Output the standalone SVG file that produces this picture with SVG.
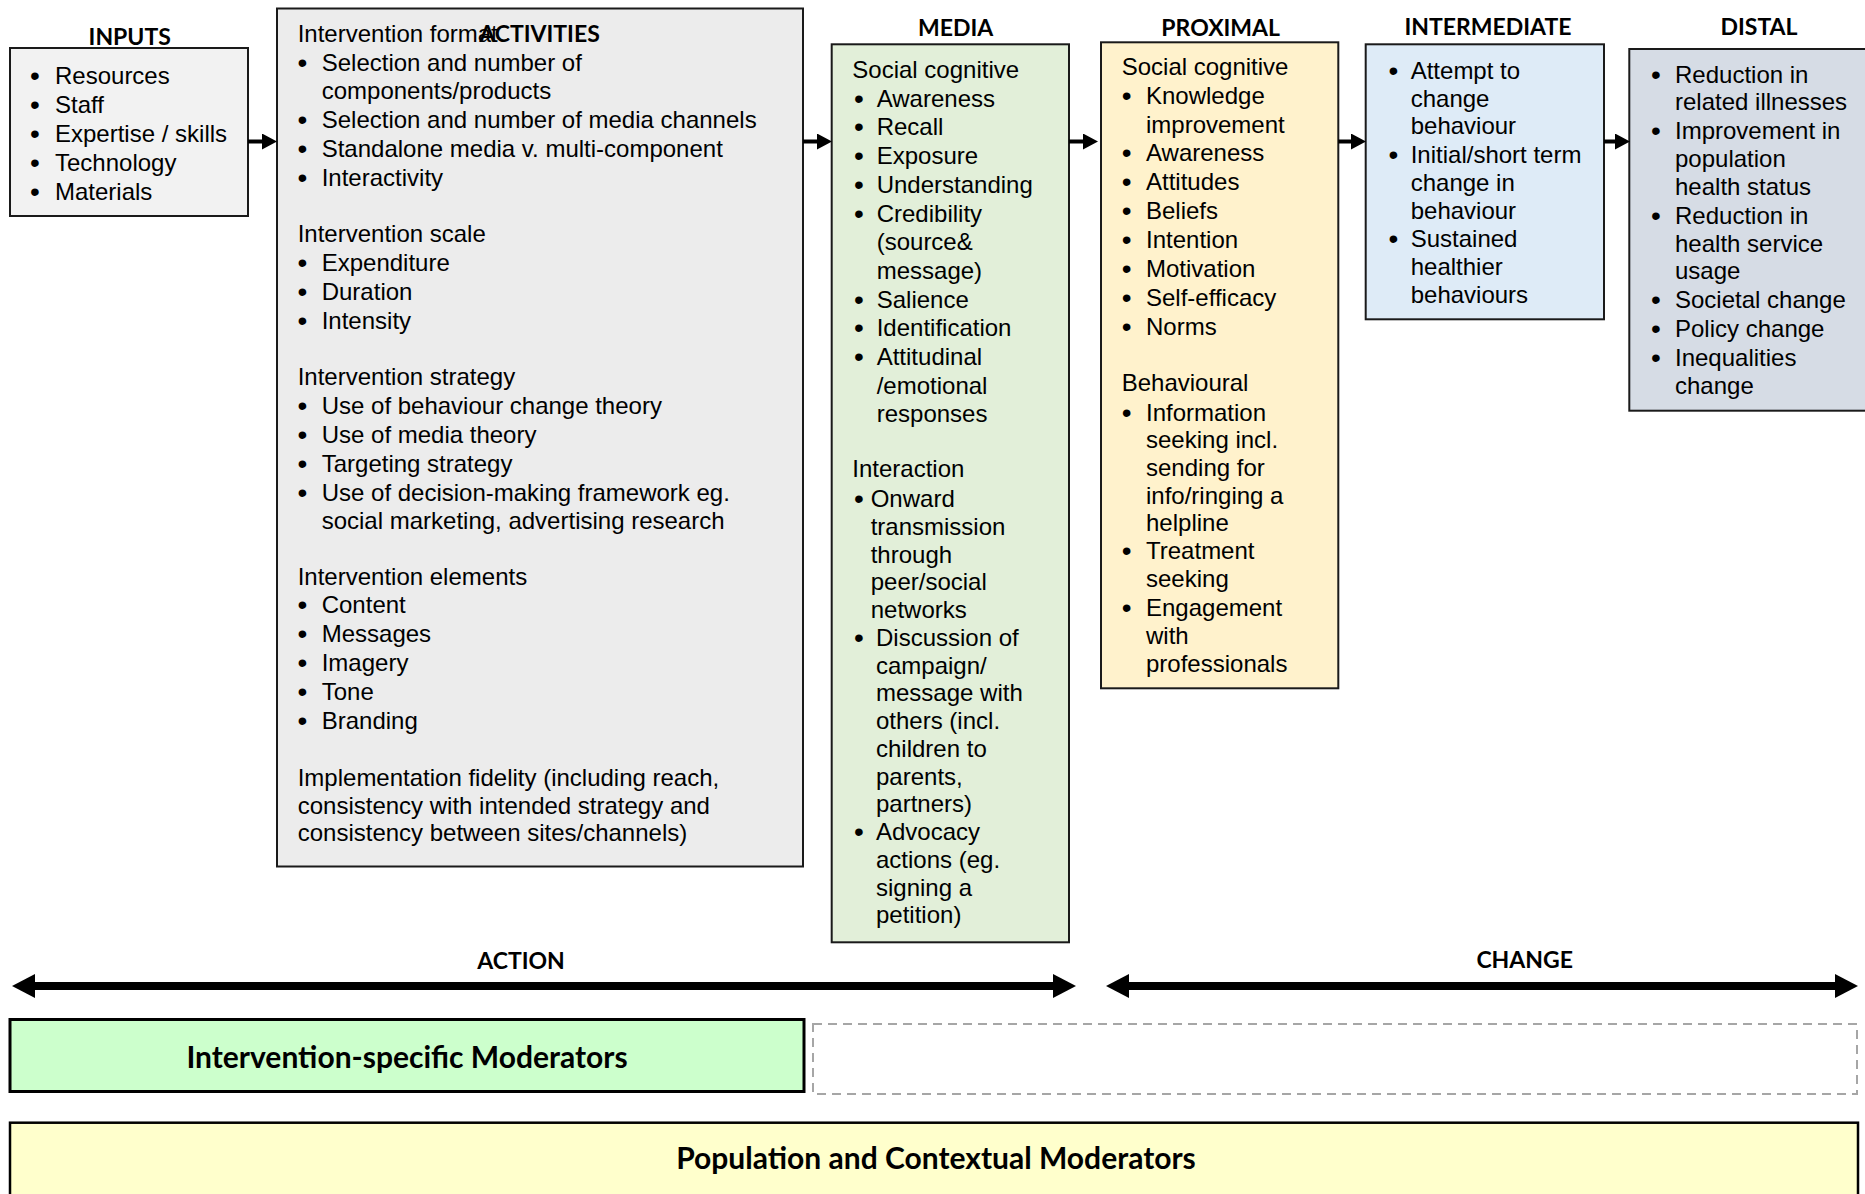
<svg xmlns="http://www.w3.org/2000/svg" width="1865" height="1194" viewBox="0 0 1865 1194">
<style>
.t{font-family:"Liberation Sans",Arial,sans-serif;font-size:24px;fill:#000}
.bu{font-family:"Liberation Sans",Arial,sans-serif;font-size:28px;fill:#000;text-anchor:middle}
.h{font-family:Lato,"Open Sans",sans-serif;font-weight:bold;font-size:23px;fill:#000;text-anchor:middle}
.hb{font-family:Lato,"Open Sans",sans-serif;font-weight:bold;font-size:30px;fill:#000;text-anchor:middle}
.box{stroke:#1a1a1a;stroke-width:2}
.conn{stroke:#000;stroke-width:4;fill:none}
.big{stroke:#000;stroke-width:8;fill:none}
</style>
<defs>
<marker id="ah" markerUnits="userSpaceOnUse" markerWidth="15" markerHeight="16" viewBox="0 0 15 16" refX="1" refY="8" orient="auto"><path d="M0,0 L15,8 L0,16 z" fill="#000"/></marker>
<marker id="bh" markerUnits="userSpaceOnUse" markerWidth="23" markerHeight="24" viewBox="0 0 23 24" refX="1" refY="12" orient="auto-start-reverse"><path d="M0,0 L23,12 L0,24 z" fill="#000"/></marker>
</defs>

<g id="inputs">
<text class="h" x="129.7" y="45">INPUTS</text>
<rect class="box" x="10" y="48" width="238" height="168" fill="#f2f2f2"/>
<text class="bu" x="35" y="84.5">•</text><text class="t" x="55" y="83.5">Resources</text>
<text class="bu" x="35" y="113.5">•</text><text class="t" x="55" y="112.5">Staff</text>
<text class="bu" x="35" y="142.5">•</text><text class="t" x="55" y="141.5">Expertise / skills</text>
<text class="bu" x="35" y="171.5">•</text><text class="t" x="55" y="170.5">Technology</text>
<text class="bu" x="35" y="200.5">•</text><text class="t" x="55" y="199.5">Materials</text>
</g>

<g id="activities">
<rect class="box" x="277" y="8.5" width="526" height="858" fill="#ececec"/>
<text class="t" x="297.7" y="42">Intervention format</text>
<text class="h" x="539.5" y="41.7">ACTIVITIES</text>
<text class="bu" x="302.3" y="71.7">•</text><text class="t" x="321.7" y="70.7">Selection and number of</text>
<text class="t" x="321.7" y="99.3">components/products</text>
<text class="bu" x="302.3" y="129">•</text><text class="t" x="321.7" y="128">Selection and number of media channels</text>
<text class="bu" x="302.3" y="157.7">•</text><text class="t" x="321.7" y="156.7">Standalone media v. multi-component</text>
<text class="bu" x="302.3" y="187">•</text><text class="t" x="321.7" y="186">Interactivity</text>
<text class="t" x="297.7" y="241.7">Intervention scale</text>
<text class="bu" x="302.3" y="271.7">•</text><text class="t" x="321.7" y="270.7">Expenditure</text>
<text class="bu" x="302.3" y="300.7">•</text><text class="t" x="321.7" y="299.7">Duration</text>
<text class="bu" x="302.3" y="329.7">•</text><text class="t" x="321.7" y="328.7">Intensity</text>
<text class="t" x="297.7" y="384.5">Intervention strategy</text>
<text class="bu" x="302.3" y="414.5">•</text><text class="t" x="321.7" y="413.5">Use of behaviour change theory</text>
<text class="bu" x="302.3" y="443.5">•</text><text class="t" x="321.7" y="442.5">Use of media theory</text>
<text class="bu" x="302.3" y="472.5">•</text><text class="t" x="321.7" y="471.5">Targeting strategy</text>
<text class="bu" x="302.3" y="501.5">•</text><text class="t" x="321.7" y="500.5">Use of decision-making framework eg.</text>
<text class="t" x="321.7" y="529">social marketing, advertising research</text>
<text class="t" x="297.7" y="584.5">Intervention elements</text>
<text class="bu" x="302.3" y="614.3">•</text><text class="t" x="321.7" y="613.3">Content</text>
<text class="bu" x="302.3" y="643">•</text><text class="t" x="321.7" y="642">Messages</text>
<text class="bu" x="302.3" y="671.7">•</text><text class="t" x="321.7" y="670.7">Imagery</text>
<text class="bu" x="302.3" y="700.7">•</text><text class="t" x="321.7" y="699.7">Tone</text>
<text class="bu" x="302.3" y="729.7">•</text><text class="t" x="321.7" y="728.7">Branding</text>
<text class="t" x="297.7" y="786">Implementation fidelity (including reach,</text>
<text class="t" x="297.7" y="813.5">consistency with intended strategy and</text>
<text class="t" x="297.7" y="841">consistency between sites/channels)</text>
</g>

<g id="media">
<text class="h" x="955.6" y="35.7">MEDIA</text>
<rect class="box" x="831.7" y="44.3" width="237.3" height="898" fill="#e2efd9"/>
<text class="t" x="852.3" y="78">Social cognitive</text>
<text class="bu" x="859" y="107.7">•</text><text class="t" x="876.7" y="106.7">Awareness</text>
<text class="bu" x="859" y="136.4">•</text><text class="t" x="876.7" y="135.4">Recall</text>
<text class="bu" x="859" y="165.1">•</text><text class="t" x="876.7" y="164.1">Exposure</text>
<text class="bu" x="859" y="193.8">•</text><text class="t" x="876.7" y="192.8">Understanding</text>
<text class="bu" x="859" y="222.5">•</text><text class="t" x="876.7" y="221.5">Credibility</text>
<text class="t" x="876.7" y="250.2">(source&amp;</text>
<text class="t" x="876.7" y="278.9">message)</text>
<text class="bu" x="859" y="308.6">•</text><text class="t" x="876.7" y="307.6">Salience</text>
<text class="bu" x="859" y="337.3">•</text><text class="t" x="876.7" y="336.3">Identification</text>
<text class="bu" x="859" y="366">•</text><text class="t" x="876.7" y="365">Attitudinal</text>
<text class="t" x="876.7" y="393.7">/emotional</text>
<text class="t" x="876.7" y="422.4">responses</text>
<text class="t" x="852.3" y="477.3">Interaction</text>
<text class="bu" x="859" y="508">•</text><text class="t" x="870.7" y="507">Onward</text>
<text class="t" x="870.7" y="534.8">transmission</text>
<text class="t" x="870.7" y="562.5">through</text>
<text class="t" x="870.7" y="590.3">peer/social</text>
<text class="t" x="870.7" y="618">networks</text>
<text class="bu" x="859" y="646.8">•</text><text class="t" x="876" y="645.8">Discussion of</text>
<text class="t" x="876" y="673.5">campaign/</text>
<text class="t" x="876" y="701.3">message with</text>
<text class="t" x="876" y="729">others (incl.</text>
<text class="t" x="876" y="756.8">children to</text>
<text class="t" x="876" y="784.5">parents,</text>
<text class="t" x="876" y="812.3">partners)</text>
<text class="bu" x="859" y="841">•</text><text class="t" x="876" y="840">Advocacy</text>
<text class="t" x="876" y="867.8">actions (eg.</text>
<text class="t" x="876" y="895.5">signing a</text>
<text class="t" x="876" y="923.3">petition)</text>
</g>

<g id="proximal">
<text class="h" x="1220.7" y="35.7">PROXIMAL</text>
<rect class="box" x="1101" y="42.3" width="237.3" height="646" fill="#fff2cc"/>
<text class="t" x="1121.7" y="75">Social cognitive</text>
<text class="bu" x="1126.7" y="105.3">•</text><text class="t" x="1146" y="104.3">Knowledge</text>
<text class="t" x="1146" y="132.7">improvement</text>
<text class="bu" x="1126.7" y="162.3">•</text><text class="t" x="1146" y="161.3">Awareness</text>
<text class="bu" x="1126.7" y="191.3">•</text><text class="t" x="1146" y="190.3">Attitudes</text>
<text class="bu" x="1126.7" y="220.3">•</text><text class="t" x="1146" y="219.3">Beliefs</text>
<text class="bu" x="1126.7" y="249.3">•</text><text class="t" x="1146" y="248.3">Intention</text>
<text class="bu" x="1126.7" y="278.3">•</text><text class="t" x="1146" y="277.3">Motivation</text>
<text class="bu" x="1126.7" y="307">•</text><text class="t" x="1146" y="306">Self-efficacy</text>
<text class="bu" x="1126.7" y="336">•</text><text class="t" x="1146" y="335">Norms</text>
<text class="t" x="1121.7" y="390.7">Behavioural</text>
<text class="bu" x="1126.7" y="421.5">•</text><text class="t" x="1146" y="420.5">Information</text>
<text class="t" x="1146" y="448.3">seeking incl.</text>
<text class="t" x="1146" y="476">sending for</text>
<text class="t" x="1146" y="503.5">info/ringing a</text>
<text class="t" x="1146" y="531">helpline</text>
<text class="bu" x="1126.7" y="560.3">•</text><text class="t" x="1146" y="559.3">Treatment</text>
<text class="t" x="1146" y="587.3">seeking</text>
<text class="bu" x="1126.7" y="617.3">•</text><text class="t" x="1146" y="616.3">Engagement</text>
<text class="t" x="1146" y="644.3">with</text>
<text class="t" x="1146" y="671.7">professionals</text>
</g>

<g id="intermediate">
<text class="h" x="1488" y="35">INTERMEDIATE</text>
<rect class="box" x="1365.7" y="44.3" width="238.3" height="275" fill="#deebf7"/>
<text class="bu" x="1393.3" y="80">•</text><text class="t" x="1410.7" y="79">Attempt to</text>
<text class="t" x="1410.7" y="106.7">change</text>
<text class="t" x="1410.7" y="134.3">behaviour</text>
<text class="bu" x="1393.3" y="164">•</text><text class="t" x="1410.7" y="163">Initial/short term</text>
<text class="t" x="1410.7" y="190.8">change in</text>
<text class="t" x="1410.7" y="218.5">behaviour</text>
<text class="bu" x="1393.3" y="248">•</text><text class="t" x="1410.7" y="247">Sustained</text>
<text class="t" x="1410.7" y="274.8">healthier</text>
<text class="t" x="1410.7" y="302.5">behaviours</text>
</g>

<g id="distal">
<text class="h" x="1759" y="35">DISTAL</text>
<rect class="box" x="1629.3" y="49" width="250" height="361.7" fill="#d6dce5"/>
<text class="bu" x="1656" y="83.7">•</text><text class="t" x="1675" y="82.7">Reduction in</text>
<text class="t" x="1675" y="110.3">related illnesses</text>
<text class="bu" x="1656" y="140">•</text><text class="t" x="1675" y="139">Improvement in</text>
<text class="t" x="1675" y="166.7">population</text>
<text class="t" x="1675" y="194.5">health status</text>
<text class="bu" x="1656" y="224.5">•</text><text class="t" x="1675" y="223.5">Reduction in</text>
<text class="t" x="1675" y="251.5">health service</text>
<text class="t" x="1675" y="279.3">usage</text>
<text class="bu" x="1656" y="309.3">•</text><text class="t" x="1675" y="308.3">Societal change</text>
<text class="bu" x="1656" y="338.3">•</text><text class="t" x="1675" y="337.3">Policy change</text>
<text class="bu" x="1656" y="367.3">•</text><text class="t" x="1675" y="366.3">Inequalities</text>
<text class="t" x="1675" y="394">change</text>
</g>

<g id="action-label"><text class="h" x="521" y="969">ACTION</text></g>
<g id="change-label"><text class="h" x="1524.7" y="968">CHANGE</text></g>

<g id="intervention-moderators">
<rect x="10" y="1019.5" width="794" height="72" fill="#ccffcc" stroke="#000" stroke-width="3"/>
<text class="hb" x="407" y="1068">Intervention-specific Moderators</text>
</g>
<g id="dashed-placeholder">
<rect x="813" y="1024" width="1044" height="70" fill="none" stroke="#a6a6a6" stroke-width="2" stroke-dasharray="9 6"/>
</g>
<g id="population-moderators">
<rect x="10" y="1122.7" width="1848" height="90" fill="#ffffcc" stroke="#000" stroke-width="2.5"/>
<text class="hb" x="936" y="1169">Population and Contextual Moderators</text>
</g>

<g id="connectors">
<line class="conn" x1="248" y1="141.5" x2="263" y2="141.5" marker-end="url(#ah)"/>
<line class="conn" x1="803" y1="141.5" x2="818" y2="141.5" marker-end="url(#ah)"/>
<line class="conn" x1="1069" y1="141.5" x2="1084" y2="141.5" marker-end="url(#ah)"/>
<line class="conn" x1="1338.3" y1="141.5" x2="1352" y2="141.5" marker-end="url(#ah)"/>
<line class="conn" x1="1604" y1="141.5" x2="1616" y2="141.5" marker-end="url(#ah)"/>
<line class="big" x1="34" y1="986" x2="1054" y2="986" marker-start="url(#bh)" marker-end="url(#bh)"/>
<line class="big" x1="1128" y1="986" x2="1836" y2="986" marker-start="url(#bh)" marker-end="url(#bh)"/>
</g>
</svg>
